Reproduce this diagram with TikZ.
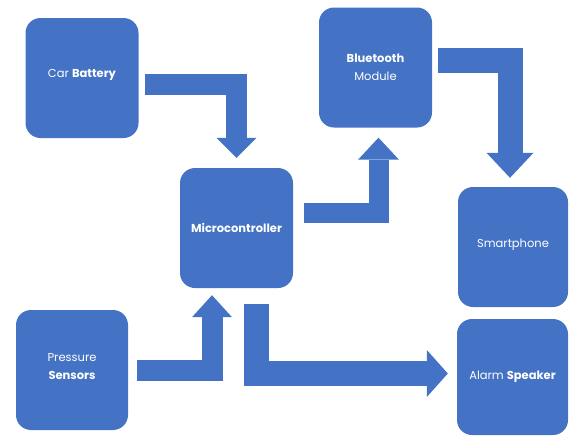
\documentclass[tikz,border=0pt]{standalone}
\usepackage{fontspec}
\setmainfont{Poppins}
\usetikzlibrary{arrows.meta}
\definecolor{boxblue}{HTML}{4472C4}
\tikzset{
  block/.style={fill=boxblue, rounded corners=15pt, minimum width=113pt, minimum height=120pt,
    text=white, align=center, inner sep=2pt, font=\fontsize{11.5}{18}\selectfont},
  flow/.style n args={3}{draw=boxblue, line width=#1, line join=miter,
    -{Triangle[width=#2, length=#3, line width=0pt]}}
}

\begin{document}
\begin{tikzpicture}[x=1pt,y=-1pt]
  \useasboundingbox (0,0) rectangle (569,437);
  % boxes
  \node[block, text depth=10pt] (bat) at (82,78) {Car \textbf{Battery}};
  \node[block] (mc) at (236.5,228) {\textbf{Microcontroller}};
  \node[block] (bt) at (375.5,67.5) {\textbf{Bluetooth}\\Module};
  \node[block, minimum width=110pt, text depth=7pt] (sp) at (513,247) {Smartphone};
  \node[block, minimum width=111pt, minimum height=116pt] (al) at (512.5,377) {Alarm \textbf{Speaker}};
  \node[block, minimum width=112pt, text depth=8pt] (ps) at (72,370) {Pressure\\\textbf{Sensors}};
  % block arrows
  \draw[flow={21pt}{40pt}{20pt}, shorten >=10pt]
        ([xshift=6pt,yshift=-6pt]bat.east) -| (mc.north);
  \draw[flow={20pt}{41pt}{22pt}, shorten >=10pt]
        ([xshift=11pt,yshift=15.5pt]mc.east) -| ([xshift=3pt]bt.south);
  \draw[flow={25pt}{47pt}{25pt}, shorten >=9pt]
        ([xshift=6pt,yshift=7.5pt]bt.east) -| ([xshift=-3pt]sp.north);
  \draw[flow={21pt}{40pt}{22pt}, shorten >=7pt]
        ([xshift=9pt]ps.east) -| ([xshift=-24.5pt]mc.south);
  \draw[flow={25pt}{47pt}{21pt}, shorten >=9pt]
        ([xshift=20pt,yshift=-16pt]mc.south) |- ([yshift=3.5pt]al.west);
\end{tikzpicture}
\end{document}
